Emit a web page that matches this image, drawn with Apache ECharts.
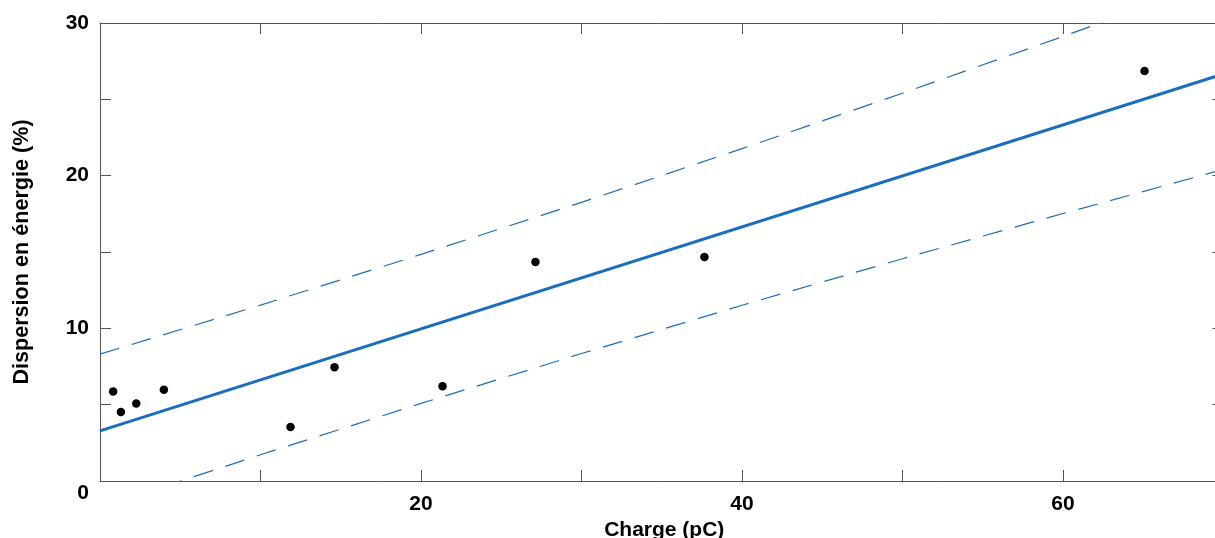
<!DOCTYPE html>
<html>
<head>
<meta charset="utf-8">
<script src="https://cdn.jsdelivr.net/npm/echarts@6/dist/echarts.min.js"></script>
<style>
html,body{margin:0;padding:0;background:#fff;overflow:hidden;}
#chart{width:1215px;height:538px;}
</style>
</head>
<body>
<div id="chart"></div>
<script>
// Measured points
const chargeX = [0.82, 1.30, 2.26, 3.98, 11.87, 14.61, 21.34, 27.13, 37.66, 65.08];
const dispersionY = [5.87, 4.52, 5.07, 5.98, 3.54, 7.45, 6.20, 14.34, 14.67, 26.85];
// Linear fit (end points)
const fitX = [0, 70];
const fitY = [3.28, 26.66];
// Prediction bounds
const boundX = [0, 10, 20, 30, 40, 50, 60, 70];
const upperY = [8.31, 11.52, 14.84, 18.25, 21.77, 25.40, 29.12, 32.91];
const lowerY = [-1.75, 1.72, 5.08, 8.35, 11.51, 14.56, 17.52, 20.41];
// Axis labels
const xLabelValues = [20, 40, 60];
const yLabelValues = [0, 10, 20, 30];
const xTitle = 'Charge (pC)';
const yTitle = 'Dispersion en énergie (%)';

const FONT = "'Liberation Sans', Arial, sans-serif";
const AXIS_COLOR = '#555555';
const BLUE = '#1b6ebd';

const pairs = (xs, ys) => xs.map((x, i) => [x, ys[i]]);

const chart = echarts.init(document.getElementById('chart'), null, {renderer: 'canvas'});

const axLine = {show: true, onZero: false, lineStyle: {color: AXIS_COLOR, width: 1}};
const tickIn = (len) => ({show: true, inside: true, length: len, lineStyle: {color: AXIS_COLOR, width: 1}});

chart.setOption({
  animation: false,
  backgroundColor: '#ffffff',
  grid: {left: 100, top: 23, width: 1123.5, height: 458, containLabel: false, outerBoundsMode: 'none'},
  xAxis: [
    {
      type: 'value', position: 'bottom', min: 0, max: 70, interval: 10,
      axisLine: axLine, axisTick: tickIn(11), splitLine: {show: false},
      axisLabel: {
        show: true, margin: 13, color: '#000', fontFamily: FONT, fontWeight: 'bold', fontSize: 21,
        showMinLabel: true, showMaxLabel: true, hideOverlap: false,
        formatter: v => xLabelValues.includes(v) ? String(v) : ''
      },
      name: xTitle, nameLocation: 'middle', nameGap: 32,
      nameTextStyle: {color: '#000', fontFamily: FONT, fontWeight: 'bold', fontSize: 21, padding: [0, 0, 0, 5]}
    },
    {
      type: 'value', position: 'top', min: 0, max: 70, interval: 10,
      axisLine: axLine, axisTick: tickIn(11), splitLine: {show: false},
      axisLabel: {show: false}
    }
  ],
  yAxis: [
    {
      type: 'value', position: 'left', min: 0, max: 30, interval: 5,
      axisLine: axLine, axisTick: tickIn(11), splitLine: {show: false},
      axisLabel: {
        show: true, margin: 11, color: '#000', fontFamily: FONT, fontWeight: 'bold', fontSize: 21,
        showMinLabel: true, showMaxLabel: true,
        formatter: v => {
          if (!yLabelValues.includes(v)) return '';
          return v === 0 ? '{z|0}' : String(v);
        },
        rich: {z: {color: '#000', fontFamily: FONT, fontWeight: 'bold', fontSize: 21, padding: [24, 0, 0, 0]}}
      },
      name: yTitle, nameLocation: 'middle', nameGap: 67, nameRotate: 90,
      nameTextStyle: {color: '#000', fontFamily: FONT, fontWeight: 'bold', fontSize: 21.6}
    },
    {
      type: 'value', position: 'right', min: 0, max: 30, interval: 5,
      axisLine: axLine, axisTick: tickIn(11), splitLine: {show: false},
      axisLabel: {show: false}
    }
  ],
  series: [
    {
      type: 'line', name: 'upper', data: pairs(boundX, upperY), xAxisIndex: 0, yAxisIndex: 0,
      showSymbol: false, symbol: 'none', clip: true, smooth: false,
      lineStyle: {color: BLUE, width: 1.2, type: [20, 13]}, z: 2
    },
    {
      type: 'line', name: 'lower', data: pairs(boundX, lowerY), xAxisIndex: 0, yAxisIndex: 0,
      showSymbol: false, symbol: 'none', clip: true, smooth: false,
      lineStyle: {color: BLUE, width: 1.2, type: [20, 13]}, z: 2
    },
    {
      type: 'line', name: 'fit', data: pairs(fitX, fitY), xAxisIndex: 0, yAxisIndex: 0,
      showSymbol: false, symbol: 'none', clip: true,
      lineStyle: {color: BLUE, width: 3}, z: 3
    },
    {
      type: 'scatter', name: 'data', data: pairs(chargeX, dispersionY), xAxisIndex: 0, yAxisIndex: 0,
      symbol: 'circle', symbolSize: 8.5, itemStyle: {color: '#000', opacity: 1}, z: 4
    }
  ]
});
</script>
</body>
</html>
